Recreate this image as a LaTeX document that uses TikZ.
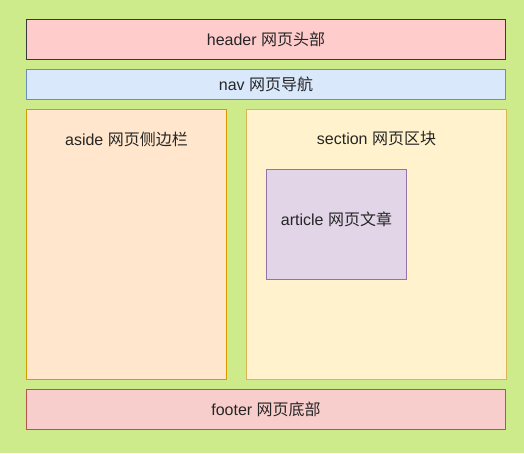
\documentclass[tikz,border=0pt]{standalone}
\usepackage{fontspec}
\setmainfont{Liberation Sans}
\newfontfamily\cjk{Noto Sans CJK SC}
\definecolor{bggreen}{HTML}{CDEB8B}
\definecolor{hdfill}{HTML}{FFCCCC}
\definecolor{hddraw}{HTML}{36393D}
\definecolor{navfill}{HTML}{DAE8FC}
\definecolor{navdraw}{HTML}{6C8EBF}
\definecolor{asfill}{HTML}{FFE6CC}
\definecolor{asdraw}{HTML}{D79B00}
\definecolor{secfill}{HTML}{FFF2CC}
\definecolor{secdraw}{HTML}{D6B656}
\definecolor{artfill}{HTML}{E1D5E7}
\definecolor{artdraw}{HTML}{9673A6}
\definecolor{ftfill}{HTML}{F8CECC}
\definecolor{ftdraw}{HTML}{B85450}
\begin{document}
\begin{tikzpicture}[x=1pt, y=-1pt,
  block/.style={draw, line width=1pt},
  txt/.style={font=\fontsize{16}{19}\selectfont, text=black!85}]
\fill[bggreen] (0,0) rectangle (524,453);
\useasboundingbox (0,0) rectangle (524,453);
\draw[block, fill=hdfill, draw=hddraw] (26.5,19.5) rectangle (505.5,59.5);
\node[txt] (header) at (266,39.5) {header {\cjk 网页头部}};
\draw[block, fill=navfill, draw=navdraw] (26.5,69.5) rectangle (505.5,99.5);
\node[txt] (nav) at (266,84.5) {nav {\cjk 网页导航}};
\draw[block, fill=asfill, draw=asdraw] (26.5,109.5) rectangle (226.5,379.5);
\node[txt] (aside) at (126.5,139) {aside {\cjk 网页侧边栏}};
\draw[block, fill=secfill, draw=secdraw] (246.5,109.5) rectangle (506.5,379.5);
\node[txt] (section) at (376.5,139) {section {\cjk 网页区块}};
\draw[block, fill=artfill, draw=artdraw] (266.5,169.5) rectangle (406.5,279.5);
\node[txt] (article) at (336.5,219) {article {\cjk 网页文章}};
\draw[block, fill=ftfill, draw=ftdraw] (26.5,389.5) rectangle (505.5,429.5);
\node[txt] (footer) at (266,409.5) {footer {\cjk 网页底部}};
\end{tikzpicture}
\end{document}
